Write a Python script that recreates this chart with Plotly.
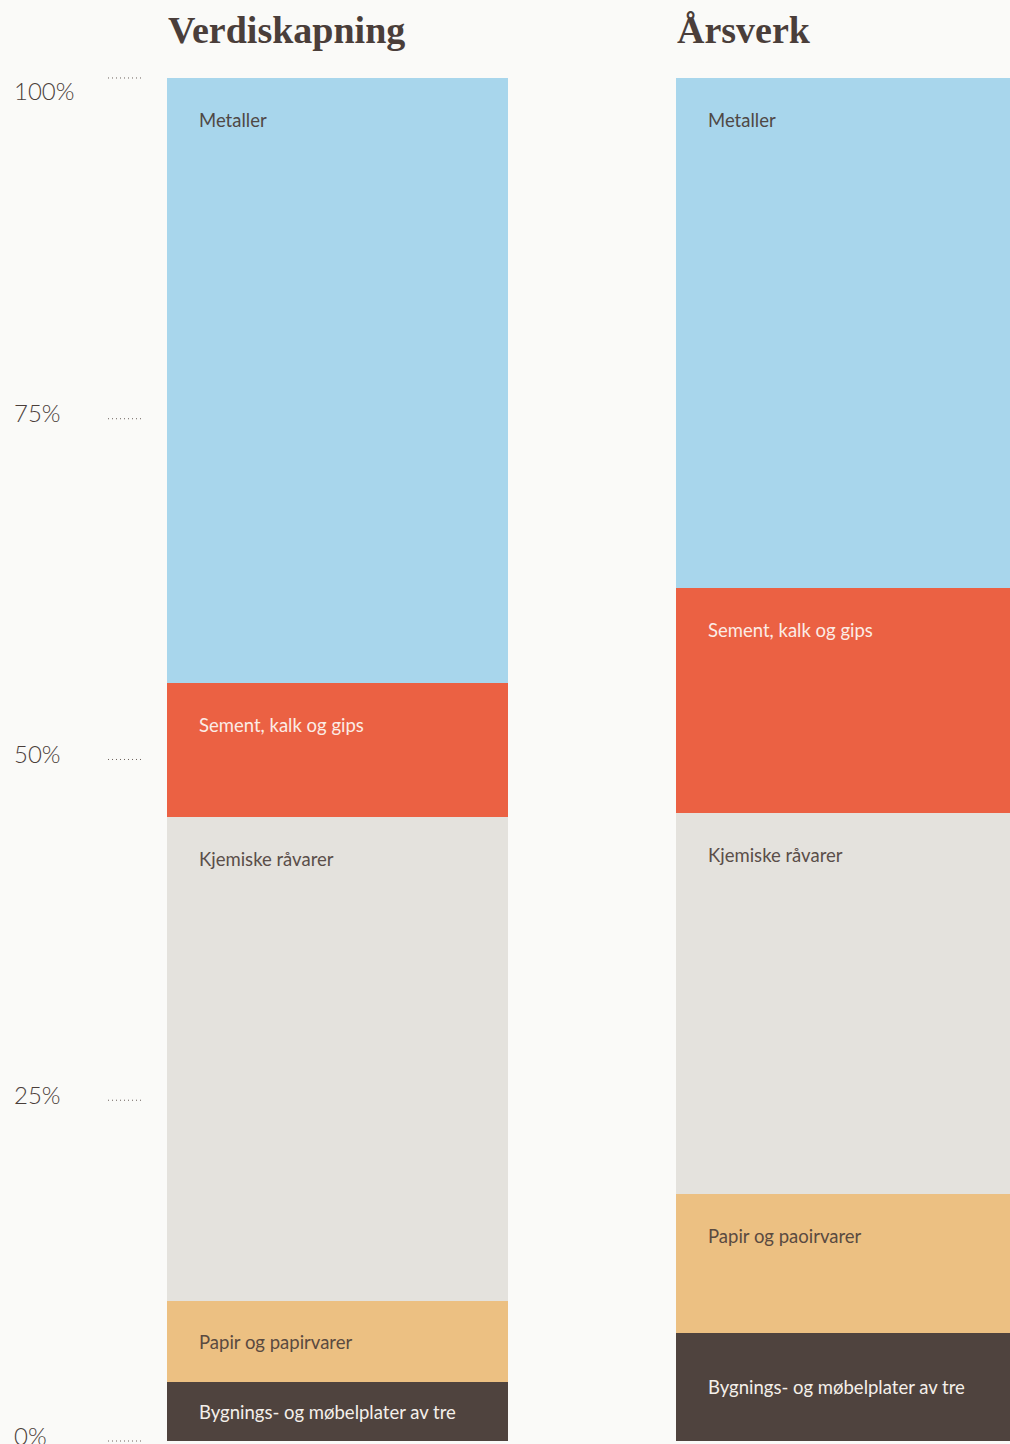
import plotly.graph_objects as go

# ---- data ----
categories = ["Verdiskapning", "Årsverk"]
series_names = ["Bygnings- og møbelplater av tre", "Papir og papirvarer",
                "Kjemiske råvarer", "Sement, kalk og gips", "Metaller"]
verdiskapning = [4.3, 6.0, 35.5, 9.8, 44.4]
arsverk = [7.9, 10.2, 28.0, 16.5, 37.4]
labels_verdiskapning = ["Bygnings- og møbelplater av tre", "Papir og papirvarer",
                        "Kjemiske råvarer", "Sement, kalk og gips", "Metaller"]
labels_arsverk = ["Bygnings- og møbelplater av tre", "Papir og paoirvarer",
                  "Kjemiske råvarer", "Sement, kalk og gips", "Metaller"]
tick_values = [0, 25, 50, 75, 100]
tick_labels = ["0%", "25%", "50%", "75%", "100%"]

# ---- styles ----
colors = ["#4f433e", "#ecc082", "#e4e2dd", "#eb6143", "#a8d6ec"]
text_colors = ["#f4efea", "#5a4a40", "#5a4e49", "#fbece6", "#4f4845"]
bg = "#fafaf8"
dark = "#4a3e3a"
bargap = 0.331
half_w = (1 - bargap) / 2
px_per_unit = 13.63

fig = go.Figure()
for i, name in enumerate(series_names):
    fig.add_trace(go.Bar(
        x=categories, y=[verdiskapning[i], arsverk[i]], name=name,
        marker=dict(color=colors[i], line=dict(width=0)),
        hoverinfo="skip", showlegend=False))

annotations = []
shapes = []
# segment labels
for ci, (vals, labs) in enumerate([(verdiskapning, labels_verdiskapning),
                                   (arsverk, labels_arsverk)]):
    cum = 0
    for i, v in enumerate(vals):
        bottom = cum
        cum += v
        top = cum
        seg_px = v * px_per_unit
        if seg_px < 120:
            y = (bottom + top) / 2
            ys = 0
        else:
            y = top
            ys = -42
        annotations.append(dict(
            x=ci - half_w, y=y, xref="x", yref="y", xanchor="left", yanchor="middle",
            xshift=30, yshift=ys, text=labs[i], showarrow=False,
            font=dict(family="Lato", size=18.5, color=text_colors[i])))
    # titles
    annotations.append(dict(
        x=ci - half_w, y=100, xref="x", yref="y", xanchor="left", yanchor="middle",
        yshift=48, xshift=-1, text="<b>" + categories[ci] + "</b>", showarrow=False,
        font=dict(family="Liberation Serif", size=38, color=dark)))

# y ticks: labels + dotted leaders
for tv, tl in zip(tick_values, tick_labels):
    annotations.append(dict(
        x=12 / 1010, y=tv, xref="paper", yref="y", xanchor="left", yanchor="middle",
        yshift=(-13 if tv == 100 else 6), text=tl, showarrow=False,
        font=dict(family="Lato", size=24, color=dark, weight=300)))
    shapes.append(dict(
        type="line", xref="paper", yref="y", x0=108 / 1010, x1=143 / 1010,
        y0=tv, y1=tv, line=dict(color="#6b605b", width=1, dash="1px,3px")))

fig.update_layout(
    width=1010, height=1444,
    margin=dict(l=0, r=0, t=0, b=0),
    paper_bgcolor=bg, plot_bgcolor=bg,
    barmode="stack", bargap=bargap,
    xaxis=dict(range=[-0.662, 1.3206], visible=False, fixedrange=True),
    yaxis=dict(range=[-0.22, 105.72], visible=False, fixedrange=True),
    annotations=annotations, shapes=shapes,
    showlegend=False,
)

fig.write_html("out.html", config={"displayModeBar": False},
               post_script="document.body.style.margin='0';document.body.style.background='#fafaf8';")
